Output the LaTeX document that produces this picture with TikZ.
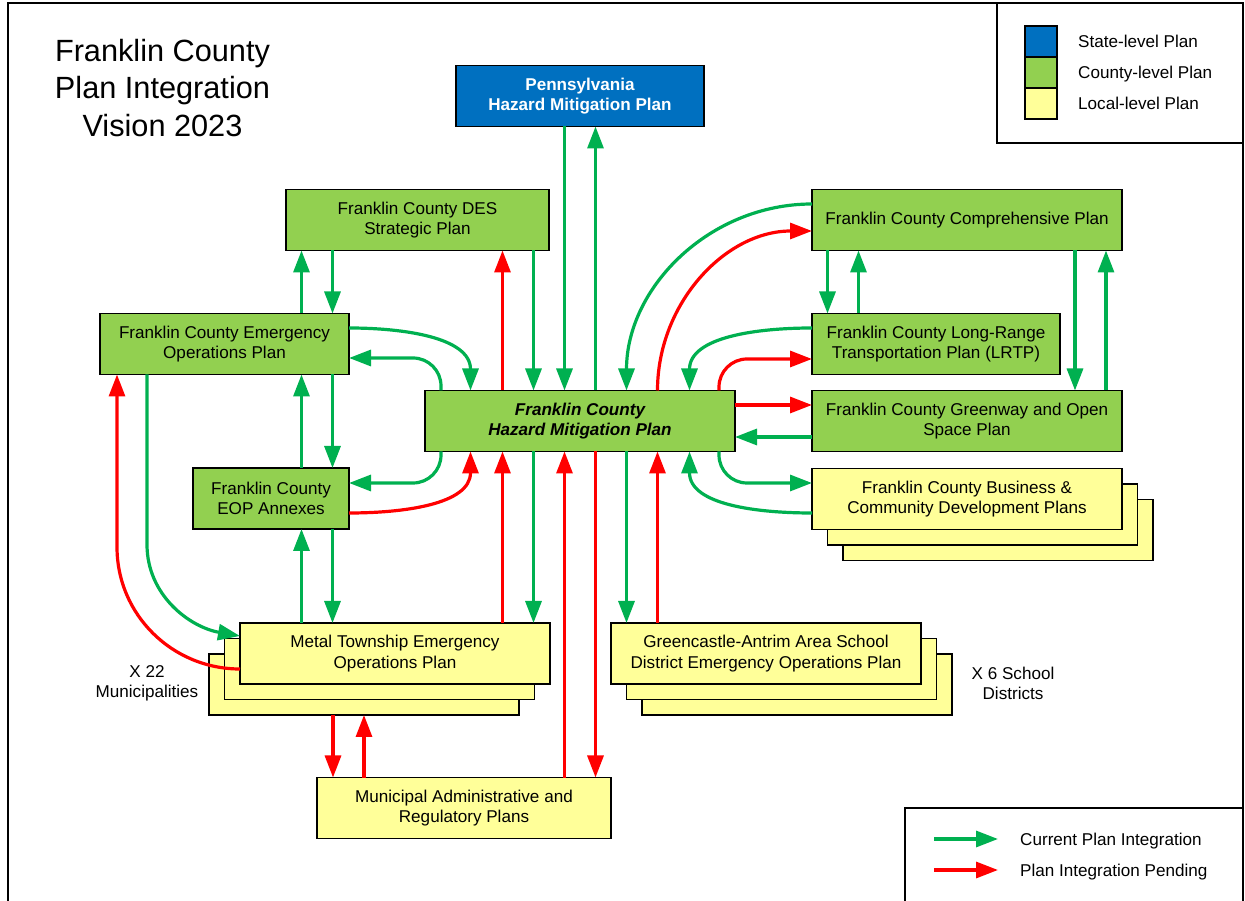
\documentclass[tikz,border=0pt]{standalone}
\usepackage{fontspec}
\setmainfont{Liberation Sans}
\usetikzlibrary{arrows.meta,positioning}
\definecolor{stateblue}{HTML}{0070C0}
\definecolor{countygreen}{HTML}{92D050}
\definecolor{localyellow}{HTML}{FFFF99}
\definecolor{linkgreen}{HTML}{00B050}
\definecolor{linkred}{HTML}{FF0000}

\begin{document}
\begin{tikzpicture}[x=1pt,y=1pt,
  plan/.style={draw=black,line width=1.8pt,align=center,inner sep=2pt,outer sep=0pt,
    minimum width=310pt,minimum height=61pt,font=\fontsize{17.1}{20.5}\selectfont},
  stateplan/.style={plan,fill=stateblue,text=white,font=\fontsize{17.1}{20.5}\selectfont\bfseries},
  countyplan/.style={plan,fill=countygreen},
  localplan/.style={plan,fill=localyellow},
  integ/.style={draw=linkgreen,line width=3.2pt,-{Triangle[length=22pt,width=16pt]}},
  pending/.style={integ,draw=linkred},
  swatch/.style={draw=black,line width=1.8pt,minimum width=32pt,minimum height=31pt,outer sep=0pt,inner sep=0pt},
  legtext/.style={inner sep=0pt,text height=12.5pt,text depth=0.5pt,font=\fontsize{17.1}{20.5}\selectfont}]
  \useasboundingbox (0,0) rectangle (1245,900);
  \draw[line width=1.6pt] (8,-10) rectangle (1243,897);

  \node[font=\fontsize{30.7}{37.5}\selectfont,align=center] (title) at (162.5,812) {Franklin County\\Plan Integration\\Vision 2023};

  \draw[line width=1.6pt] (997,757) rectangle (1243,897);
  \node[swatch,fill=stateblue] (sw1) at (1041,858.5) {};
  \node[swatch,fill=countygreen,below=0pt of sw1] (sw2) {};
  \node[swatch,fill=localyellow,below=0pt of sw2] (sw3) {};
  \node[legtext,right=21pt of sw1] (lev1) {State-level Plan};
  \node[legtext,right=21pt of sw2] (lev2) {County-level Plan};
  \node[legtext,right=21pt of sw3] (lev3) {Local-level Plan};

  \node[stateplan,minimum width=248pt] (pa) at (580,804) {Pennsylvania\\Hazard Mitigation Plan};
  \node[countyplan,minimum width=263pt] (des) at (417.5,680) {Franklin County DES\\Strategic Plan};
  \node[countyplan] (comp) at (967,680) {Franklin County Comprehensive Plan};
  \node[countyplan,minimum width=249pt] (eop) at (224.5,556) {Franklin County Emergency\\Operations Plan};
  \node[countyplan,minimum width=156pt] (annex) at (271,401.5) {Franklin County\\EOP Annexes};
  \node[countyplan,font=\fontsize{17.1}{20.5}\selectfont\bfseries\itshape] (hmp) at (580,479) {Franklin County\\Hazard Mitigation Plan};
  \node[countyplan,minimum width=248pt] (lrtp) at (936,556) {Franklin County Long-Range\\Transportation Plan (LRTP)};
  \node[countyplan] (green) at (967,479) {Franklin County Greenway and Open\\Space Plan};

  \node[localplan] (bus3) at (998,370) {};
  \node[localplan] (bus2) at (982.5,385.5) {};
  \node[localplan] (bus) at (967,401) {Franklin County Business \&\\Community Development Plans};
  \node[localplan] (metal3) at (364,215.5) {};
  \node[localplan] (metal2) at (379.5,231) {};
  \node[localplan] (metal) at (395,246.5) {Metal Township Emergency\\Operations Plan};
  \node[localplan] (school3) at (797,215.5) {};
  \node[localplan] (school2) at (781.5,231) {};
  \node[localplan] (school) at (766,246.5) {Greencastle-Antrim Area School\\District Emergency Operations Plan};
  \node[localplan,minimum width=294pt] (muni) at (464,92) {Municipal Administrative and\\Regulatory Plans};

  \node[font=\fontsize{17.1}{20.5}\selectfont,align=center] (munis) at (147,216.5) {X 22\\Municipalities};
  \node[font=\fontsize{17.1}{20.5}\selectfont,align=center] (schools) at (1013,216.5) {X 6 School\\Districts};

  \foreach \n/\dx in {a/-139,b/-109.5,c/-77.5,d/-46.5,e/-15.5,f/15.5,g/46.5,h/77.5,i/109.5,j/139}{
    \coordinate (t\n) at ([xshift=\dx pt]hmp.north);
    \coordinate (b\n) at ([xshift=\dx pt]hmp.south);
  }
  \coordinate (ca) at ([xshift=30.5pt]annex.north);
  \coordinate (cb) at ([xshift=61.5pt]annex.north);
  \coordinate (ra) at ([xshift=15.5pt]lrtp.north west);
  \coordinate (rb) at ([xshift=46.5pt]lrtp.north west);
  \coordinate (rc) at ([xshift=-47pt]green.north east);
  \coordinate (rd) at ([xshift=-16pt]green.north east);
  \coordinate (ma) at ([xshift=16pt]muni.north west);
  \coordinate (mb) at ([xshift=47pt]muni.north west);

  \draw[pending] (tc) -- (tc |- des.south);
  \draw[integ] (td |- des.south) -- (td);
  \draw[integ] (te |- pa.south) -- (te);
  \draw[integ] (tf) -- (tf |- pa.south);
  \draw[integ] ([yshift=16pt]comp.west) to[out=180,in=90] (tg);
  \draw[pending] (th) to[out=90,in=180] ([yshift=-11pt]comp.west);
  \draw[integ] ([yshift=16pt]lrtp.west) to[out=180,in=90] (ti);
  \draw[pending,rounded corners=28pt] (tj) |- ([yshift=-15pt]lrtp.west);
  \draw[pending] ([yshift=16pt]hmp.east) -- ([yshift=16pt]green.west);
  \draw[integ] ([yshift=-16pt]green.west) -- ([yshift=-16pt]hmp.east);
  \draw[integ,rounded corners=28pt] (bj) |- ([yshift=16pt]bus.west);
  \draw[integ] ([yshift=-14pt]bus.west) to[out=180,in=-90] (bi);
  \draw[integ] ([yshift=16pt]eop.east) to[out=0,in=90] (tb);
  \draw[integ,rounded corners=28pt] (ta) |- ([yshift=-14pt]eop.east);
  \draw[integ,rounded corners=28pt] (ba) |- ([yshift=15.5pt]annex.east);
  \draw[pending] ([yshift=-14.5pt]annex.east) to[out=0,in=-90] (bb);
  \draw[pending] (bc |- metal.north) -- (bc);
  \draw[integ] (bd) -- (bd |- metal.north);
  \draw[pending] (be |- muni.north) -- (be);
  \draw[pending] (bf) -- (bf |- muni.north);
  \draw[integ] (bg) -- (bg |- school.north);
  \draw[pending] (bh |- school.north) -- (bh);

  \draw[integ] (ca |- eop.north) -- (ca |- des.south);
  \draw[integ] (cb |- des.south) -- (cb |- eop.north);
  \draw[integ] (ca) -- (ca |- eop.south);
  \draw[integ] (cb |- eop.south) -- (cb);
  \draw[integ] (ca |- metal.north) -- (ca |- annex.south);
  \draw[integ] (cb |- annex.south) -- (cb |- metal.north);
  \draw[integ] (ra |- comp.south) -- (ra);
  \draw[integ] (rb) -- (rb |- comp.south);
  \draw[integ] (rc |- comp.south) -- (rc);
  \draw[integ] (rd) -- (rd |- comp.south);
  \draw[pending] (ma |- metal3.south) -- (ma);
  \draw[pending] (mb) -- (mb |- metal3.south);
  \draw[integ] ([xshift=47pt]eop.south west) -- ++(0,-170) to[out=-90,in=170] ([yshift=17.5pt]metal.west);
  \draw[pending] ([yshift=-15.5pt]metal.west) to[out=180,in=-90] ++(-123,122) -- ([xshift=17pt]eop.south west);

  \draw[line width=1.6pt] (905,-10) rectangle (1243,92);
  \node[legtext,anchor=west] (cur) at (1020,61) {Current Plan Integration};
  \node[legtext,anchor=west] (pend) at (1020,30) {Plan Integration Pending};
  \draw[integ] ([xshift=-86pt]cur.west) -- ([xshift=-22pt]cur.west);
  \draw[pending] ([xshift=-86pt]pend.west) -- ([xshift=-22pt]pend.west);
\end{tikzpicture}
\end{document}
